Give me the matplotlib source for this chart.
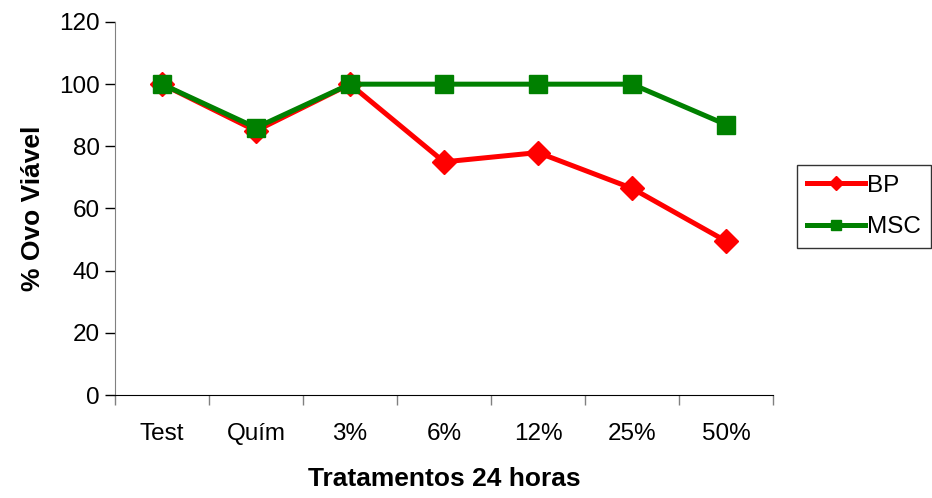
import matplotlib.pyplot as plt
import numpy as np

plt.rcParams['font.family'] = ['Liberation Sans', 'DejaVu Sans']

categorias = ['Test', 'Quím', '3%', '6%', '12%', '25%', '50%']
bp = [100, 85, 100, 75, 78, 66.5, 49.5]
msc = [100, 86, 100, 100, 100, 100, 87]

fig = plt.figure(figsize=(9.32, 4.98), dpi=100)
ax = fig.add_axes([115 / 932, 1 - 395 / 498, (773 - 115) / 932, (395 - 22) / 498])

x = np.arange(len(categorias))
ax.plot(x, bp, color='#ff0000', lw=3.6, marker='D', ms=12, mec='#ff0000', label='BP')
ax.plot(x, msc, color='#008000', lw=3.6, marker='s', ms=13, mec='#008000', label='MSC')

ax.set_xlim(-0.5, len(categorias) - 0.5)
ax.set_ylim(0, 120)
ax.set_yticks(range(0, 121, 20))
ax.set_xticks(x)
ax.set_xticklabels(categorias)
ax.set_xticks(np.arange(-0.5, len(categorias)), minor=True)
ax.tick_params(axis='x', which='major', length=0, pad=20, labelsize=17.5)
ax.tick_params(axis='x', which='minor', length=7, width=1, direction='out', color='#808080')
ax.tick_params(axis='y', length=7, width=1, direction='out', labelsize=17.5, pad=4)

for s in ['top', 'right']:
    ax.spines[s].set_visible(False)
ax.spines['left'].set_color('#808080')
ax.spines['bottom'].set_color('black')

ax.set_xlabel('Tratamentos 24 horas', fontsize=19, fontweight='bold', labelpad=16)
ax.set_ylabel('% Ovo Viável', fontsize=19, fontweight='bold', labelpad=10)

leg = fig.legend(loc='upper left', bbox_to_anchor=(797 / 932, 1 - 165 / 498),
                 fontsize=17.5, frameon=True, fancybox=False, edgecolor='black',
                 markerscale=0.6, handlelength=2.4, borderpad=0.4, labelspacing=0.8,
                 handletextpad=0.08, borderaxespad=0)
leg.get_frame().set_linewidth(1)

fig.savefig('out.png', dpi=100)
